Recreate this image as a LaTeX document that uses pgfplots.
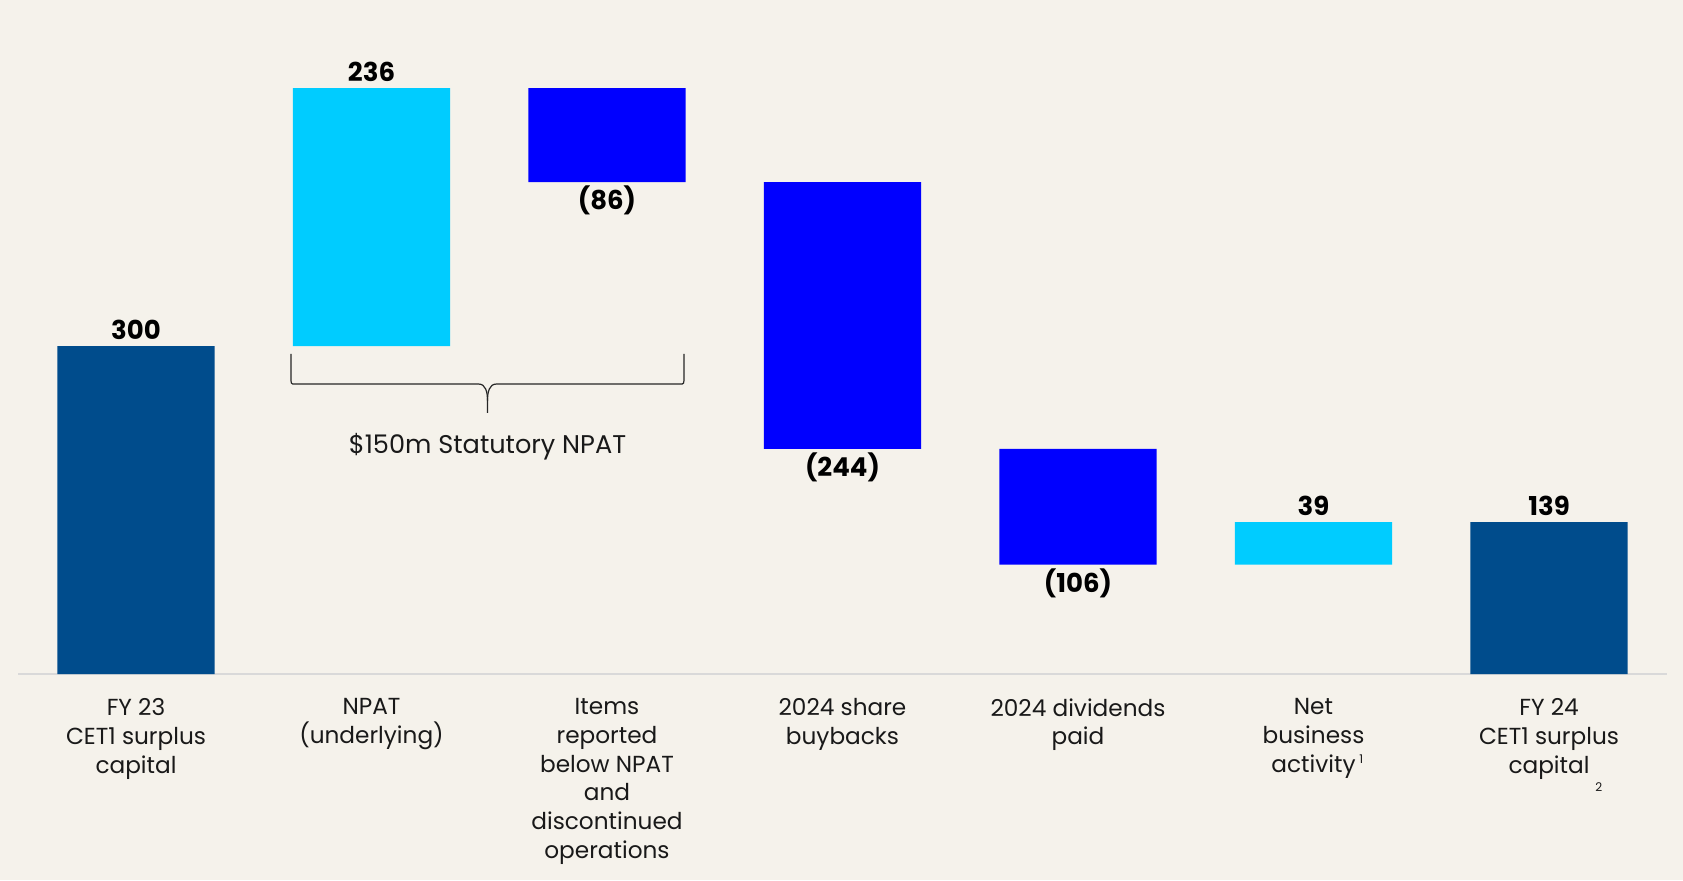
\documentclass[border=0pt]{standalone}
\usepackage{fontspec}
\setmainfont{Poppins}
\usepackage{pgfplots}
\usepackage{pgfplotstable}
\pgfplotsset{compat=1.18}
\definecolor{bgcream}{RGB}{245,242,235}
\definecolor{navy}{RGB}{0,76,140}
\definecolor{skycyan}{RGB}{0,204,255}
\definecolor{pureblue}{RGB}{0,0,255}

% waterfall: invisible base + one visible segment per bar
\pgfplotstableread{
x base dark cyan blue
0 0   300 0   0
1 300 0   236 0
2 450 0   0   86
3 206 0   0   244
4 100 0   0   106
5 100 0   39  0
6 0   139 0   0
}\flowdata

\newcommand{\valfont}{\fontsize{13}{15}\selectfont\bfseries}
\newcommand{\catfont}{\fontsize{11.6}{14.4}\selectfont}
\newcommand{\fnote}{\fontsize{6}{7}\selectfont}

\begin{document}
\begin{tikzpicture}
\fill[bgcream] (0,0) rectangle (841.5pt,440pt);
\begin{axis}[
    at={(9.125pt,103pt)}, anchor=south west,
    scale only axis,
    width=824.25pt, height=327.9pt,
    ybar stacked,
    bar width=0.667,
    xmin=-0.5, xmax=6.5,
    ymin=0, ymax=600,
    axis x line*=bottom,
    axis y line=none,
    ytick=\empty,
    x axis line style={draw=black!15, line width=1pt},
    xtick={0,...,6},
    xticklabels={
        {FY 23\\CET1 surplus\\capital},
        {NPAT\\(underlying)},
        {Items\\reported\\below NPAT\\and\\discontinued\\operations},
        {2024 share\\buybacks},
        {2024 dividends\\paid},
        {Net\\business\\activity\rlap{\,\raisebox{0.7ex}{\fnote 1}}},
        {FY 24\\CET1 surplus\\capital\rlap{\hspace{3pt}\raisebox{-9pt}{\fnote 2}}}
    },
    major tick length=0pt,
    xticklabel style={align=center, font=\catfont, anchor=north,
        inner sep=0pt, yshift=-12pt, text=black!90},
    clip=false,
]
\addplot[fill=none, draw=none] table[x=x, y=base] {\flowdata};
\addplot[fill=navy, draw=none] table[x=x, y=dark] {\flowdata};
\addplot[fill=skycyan, draw=none] table[x=x, y=cyan] {\flowdata};
\addplot[fill=pureblue, draw=none] table[x=x, y=blue] {\flowdata};

% value labels
\node[font=\valfont, anchor=base, yshift=3.5pt] at (axis cs:0,300) {300};
\node[font=\valfont, anchor=base, yshift=3.5pt] at (axis cs:1,536) {236};
\node[font=\valfont, anchor=base, yshift=-13.9pt] at (axis cs:2,450) {(86)};
\node[font=\valfont, anchor=base, yshift=-13.9pt] at (axis cs:3,206) {(244)};
\node[font=\valfont, anchor=base, yshift=-13.9pt] at (axis cs:4,100) {(106)};
\node[font=\valfont, anchor=base, yshift=3.5pt] at (axis cs:5,139) {39};
\node[font=\valfont, anchor=base, yshift=3.5pt] at (axis cs:6,139) {139};

% brace under NPAT and items
\draw[line width=0.6pt, black!85]
    (axis cs:0.658,292.8) -- (axis cs:0.658,272)
    .. controls (axis cs:0.658,265.3) .. (axis cs:0.675,265.3)
    -- (axis cs:1.455,265.3)
    .. controls (axis cs:1.485,265.3) and (axis cs:1.4926,258) .. (axis cs:1.4926,250)
    -- (axis cs:1.4926,238.8);
\draw[line width=0.6pt, black!85]
    (axis cs:1.4926,250)
    .. controls (axis cs:1.4926,258) and (axis cs:1.50,265.3) .. (axis cs:1.53,265.3)
    -- (axis cs:2.31,265.3)
    .. controls (axis cs:2.327,265.3) .. (axis cs:2.327,272)
    -- (axis cs:2.327,292.8);
\node[font=\fontsize{12.8}{15}\selectfont, text=black!90] at (axis cs:1.4926,208) {\$150m Statutory NPAT};
\end{axis}
\pgfresetboundingbox
\path (0,0) rectangle (841.5pt,440pt);
\end{tikzpicture}
\end{document}
